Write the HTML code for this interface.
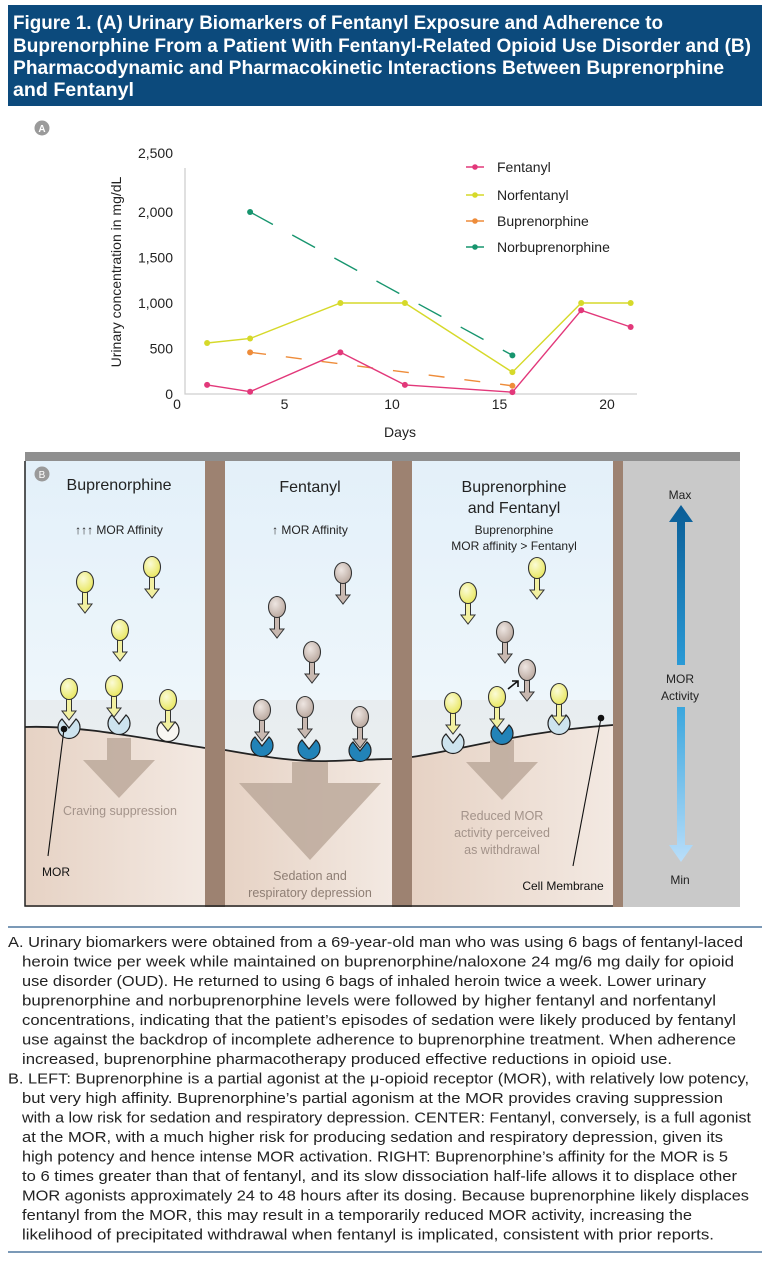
<!DOCTYPE html>
<html><head><meta charset="utf-8">
<style>
html,body{margin:0;padding:0;background:#fff;}
svg{display:block;font-family:"Liberation Sans",sans-serif;}
</style></head>
<body>
<svg id="fig" width="768" height="1268" viewBox="0 0 768 1268" xmlns="http://www.w3.org/2000/svg">
<defs>
<linearGradient id="sky" x1="0" y1="0" x2="0" y2="1"><stop offset="0" stop-color="#e3f0f9"/><stop offset="1" stop-color="#f7fbfd"/></linearGradient>
<linearGradient id="tan" x1="0" y1="0" x2="1" y2="0"><stop offset="0" stop-color="#e6d2c4"/><stop offset="1" stop-color="#f3e9e2"/></linearGradient>
<linearGradient id="upArr" x1="0" y1="1" x2="0" y2="0"><stop offset="0" stop-color="#2a9ad6"/><stop offset="1" stop-color="#0a5d96"/></linearGradient>
<linearGradient id="dnArr" x1="0" y1="0" x2="0" y2="1"><stop offset="0" stop-color="#3aa6dd"/><stop offset="1" stop-color="#b9defa"/></linearGradient>
<radialGradient id="yel" cx="0.4" cy="0.35" r="0.7"><stop offset="0" stop-color="#fbfbd6"/><stop offset="1" stop-color="#e8e65a"/></radialGradient>
<radialGradient id="brn" cx="0.4" cy="0.35" r="0.7"><stop offset="0" stop-color="#eee6e2"/><stop offset="1" stop-color="#b8a69c"/></radialGradient>
</defs>

<!-- Title -->
<rect x="8" y="5" width="754" height="101" fill="#0c4a7c"/>
<g fill="#fff" font-weight="bold" font-size="19">
<text x="13" y="29" textLength="650" lengthAdjust="spacingAndGlyphs">Figure 1. (A) Urinary Biomarkers of Fentanyl Exposure and Adherence to</text>
<text x="13" y="52" textLength="738" lengthAdjust="spacingAndGlyphs">Buprenorphine From a Patient With Fentanyl-Related Opioid Use Disorder and (B)</text>
<text x="13" y="74" textLength="711" lengthAdjust="spacingAndGlyphs">Pharmacodynamic and Pharmacokinetic Interactions Between Buprenorphine</text>
<text x="13" y="96" textLength="121" lengthAdjust="spacingAndGlyphs">and Fentanyl</text>
</g>
<g><circle cx="42" cy="128" r="7.5" fill="#9a9a9a"/><text x="42" y="132" fill="#fff" font-size="10" font-weight="bold" text-anchor="middle">A</text></g>

<!-- Chart -->
<g id="chart"></g>

<!-- Panel B -->
<g id="panelB"></g>

<!-- Caption -->
<line x1="8" y1="927" x2="762" y2="927" stroke="#2c5c8c" stroke-width="1.2"/>
<g font-size="15" fill="#222">
<text x="8" y="947" textLength="735" lengthAdjust="spacingAndGlyphs">A. Urinary biomarkers were obtained from a 69-year-old man who was using 6 bags of fentanyl-laced</text>
<text x="22" y="966.5" textLength="712" lengthAdjust="spacingAndGlyphs">heroin twice per week while maintained on buprenorphine/naloxone 24 mg/6 mg daily for opioid</text>
<text x="22" y="986" textLength="684" lengthAdjust="spacingAndGlyphs">use disorder (OUD). He returned to using 6 bags of inhaled heroin twice a week. Lower urinary</text>
<text x="22" y="1005.5" textLength="694" lengthAdjust="spacingAndGlyphs">buprenorphine and norbuprenorphine levels were followed by higher fentanyl and norfentanyl</text>
<text x="22" y="1025" textLength="714" lengthAdjust="spacingAndGlyphs">concentrations, indicating that the patient’s episodes of sedation were likely produced by fentanyl</text>
<text x="22" y="1044.5" textLength="714" lengthAdjust="spacingAndGlyphs">use against the backdrop of incomplete adherence to buprenorphine treatment. When adherence</text>
<text x="22" y="1064" textLength="650" lengthAdjust="spacingAndGlyphs">increased, buprenorphine pharmacotherapy produced effective reductions in opioid use.</text>
<text x="8" y="1083.5" textLength="741" lengthAdjust="spacingAndGlyphs">B. LEFT: Buprenorphine is a partial agonist at the μ-opioid receptor (MOR), with relatively low potency,</text>
<text x="22" y="1103" textLength="701" lengthAdjust="spacingAndGlyphs">but very high affinity. Buprenorphine’s partial agonism at the MOR provides craving suppression</text>
<text x="22" y="1122.5" textLength="729" lengthAdjust="spacingAndGlyphs">with a low risk for sedation and respiratory depression. CENTER: Fentanyl, conversely, is a full agonist</text>
<text x="22" y="1142" textLength="701" lengthAdjust="spacingAndGlyphs">at the MOR, with a much higher risk for producing sedation and respiratory depression, given its</text>
<text x="22" y="1161.5" textLength="706" lengthAdjust="spacingAndGlyphs">high potency and hence intense MOR activation. RIGHT: Buprenorphine’s affinity for the MOR is 5</text>
<text x="22" y="1181" textLength="715" lengthAdjust="spacingAndGlyphs">to 6 times greater than that of fentanyl, and its slow dissociation half-life allows it to displace other</text>
<text x="22" y="1200.5" textLength="727" lengthAdjust="spacingAndGlyphs">MOR agonists approximately 24 to 48 hours after its dosing. Because buprenorphine likely displaces</text>
<text x="22" y="1220" textLength="670" lengthAdjust="spacingAndGlyphs">fentanyl from the MOR, this may result in a temporarily reduced MOR activity, increasing the</text>
<text x="22" y="1239.5" textLength="692" lengthAdjust="spacingAndGlyphs">likelihood of precipitated withdrawal when fentanyl is implicated, consistent with prior reports.</text>
</g>
<line x1="8" y1="1252" x2="762" y2="1252" stroke="#2c5c8c" stroke-width="1.2"/>
</svg>

<script>
// ---- Chart data ----
const days = [1.4, 3.4, 7.6, 10.6, 15.6, 18.8, 21.1];
const fentanyl = [100, 25, 458, 100, 20, 920, 736];
const norfentanyl = [560, 610, 1000, 1000, 240, 1000, 1000];
const bupDays = [3.4, 15.6];
const buprenorphine = [458, 90];
const norbupDays = [3.4, 15.6];
const norbuprenorphine = [2000, 425];
const yTicks = [0, 500, 1000, 1500, 2000, 2500];
const yTickLabels = ["0", "500", "1,000", "1,500", "2,000", "2,500"];
const xTicks = [0, 5, 10, 15, 20];
const seriesNames = ["Fentanyl", "Norfentanyl", "Buprenorphine", "Norbuprenorphine"];

const NS = "http://www.w3.org/2000/svg";
function mk(tag, attrs, parent) {
  const e = document.createElementNS(NS, tag);
  for (const k in attrs) e.setAttribute(k, attrs[k]);
  parent.appendChild(e);
  return e;
}
const xS = d => 177 + d * 21.5;
const yS = v => 394 - v * 0.091;

const chart = document.getElementById('chart');
let ax = mk('path', {d: 'M185 168 V394 H637', fill: 'none', stroke: '#cfcfcf', 'stroke-width': 1.3}, chart);


yTicks.forEach((t, i) => {
  const yy = i === yTicks.length - 1 ? 153 : yS(t);
  const tx = mk('text', {x: 173, y: yy + 5, 'font-size': 14, 'text-anchor': 'end', fill: '#222'}, chart);
  tx.textContent = yTickLabels[i];
  
  
});
xTicks.forEach(t => {
  const tx = mk('text', {x: xS(t), y: 409, 'font-size': 14, 'text-anchor': 'middle', fill: '#222'}, chart);
  tx.textContent = String(t);
  
  
});
let yt = mk('text', {x: 0, y: 0, 'font-size': 14, 'text-anchor': 'middle', fill: '#222', transform: 'translate(121 272) rotate(-90)'}, chart);
yt.textContent = 'Urinary concentration in mg/dL';


let xt = mk('text', {x: 400, y: 437, 'font-size': 14, 'text-anchor': 'middle', fill: '#222'}, chart);
xt.textContent = 'Days';



function series(xs, vs, color, dash, name) {
  const g = mk('g', {}, chart);
  
  
  const pts = xs.map((d, i) => xS(d).toFixed(1) + ',' + yS(vs[i]).toFixed(1)).join(' ');
  const ln = mk('polyline', {points: pts, fill: 'none', stroke: color, 'stroke-width': 1.4}, g);
  if (dash) ln.setAttribute('stroke-dasharray', dash);
  
  
  xs.forEach((d, i) => {
    const c = mk('circle', {cx: xS(d), cy: yS(vs[i]), r: 3, fill: color}, g);
    
    
  });
}
series(days, norfentanyl, '#d6d92a', null, 'norfentanyl');
series(norbupDays, norbuprenorphine, '#17956e', '26 22', 'norbuprenorphine');
series(bupDays, buprenorphine, '#ee8c3a', '16 20', 'buprenorphine');
series(days, fentanyl, '#e2387a', null, 'fentanyl');

const legColors = ['#e2387a', '#d6d92a', '#ee8c3a', '#17956e'];
const legY = [167, 195, 221, 247];
seriesNames.forEach((n, i) => {
  const g = mk('g', {}, chart);
  
  
  mk('line', {x1: 466, y1: legY[i], x2: 484, y2: legY[i], stroke: legColors[i], 'stroke-width': 1.4}, g);
  mk('circle', {cx: 475, cy: legY[i], r: 2.8, fill: legColors[i]}, g);
  const t = mk('text', {x: 497, y: legY[i] + 5, 'font-size': 14, fill: '#222'}, g);
  t.textContent = n;
});

// ---- Panel B ----
const P = document.getElementById('panelB');
function r(x, y, w, h, fill, name) {
  const e = mk('rect', {x, y, width: w, height: h, fill}, P);
  
  
  return e;
}
r(25, 452, 715, 9, '#8f8f8f', 'top-bar');
r(25, 461, 180, 446, 'url(#sky)', 'panel-buprenorphine');
r(225, 461, 167, 446, 'url(#sky)', 'panel-fentanyl');
r(412, 461, 201, 446, 'url(#sky)', 'panel-combined');
r(623, 461, 117, 446, '#c9c9c9', 'panel-activity-scale');
const mem = [
  {x0:25,x1:205,d:'M25 727 C80 725 140 738 205 748', name:'membrane-left'},
  {x0:225,x1:392,d:'M225 750 C270 758 300 762 330 761 C360 760 380 759 392 759', name:'membrane-center'},
  {x0:412,x1:613,d:'M412 757 C470 748 520 732 613 725', name:'membrane-right'}
];
mem.forEach(m => {
  const sh = mk('path', {d: m.d + ' L' + m.x1 + ' 700 L' + m.x0 + ' 700 Z', fill: '#e4e8ea', opacity: 0.6}, P);
  
  
  const cy = mk('path', {d: m.d + ' L' + m.x1 + ' 907 L' + m.x0 + ' 907 Z', fill: 'url(#tan)'}, P);
  
  
  const ml = mk('path', {d: m.d, fill: 'none', stroke: '#222', 'stroke-width': 1.8}, P);
  
  
});
r(205, 461, 20, 446, '#9d8271', 'divider');
r(392, 461, 20, 446, '#9d8271', 'divider');
r(613, 461, 10, 446, '#9d8271', 'divider');
const bl = mk('path', {d: 'M25 461 V906 H613', fill: 'none', stroke: '#222', 'stroke-width': 1.5}, P);



function bigArrow(cx, y0, y1, hw, sw, hy, name) {
  const d = `M${cx-sw} ${y0} H${cx+sw} V${hy} H${cx+hw} L${cx} ${y1} L${cx-hw} ${hy} H${cx-sw} Z`;
  const e = mk('path', {d, fill: '#bca99b', opacity: 0.85}, P);
  
  
}
bigArrow(119, 738, 798, 36, 12, 760, 'craving-arrow');
bigArrow(310, 762, 860, 71, 18, 783, 'sedation-arrow');
bigArrow(502, 740, 800, 36, 12, 762, 'withdrawal-arrow');

function receptor(cx, cy, fill, name) {
  const g = mk('g', {}, P);
  
  
  mk('path', {d: `M${cx-7} ${cy-9} A11 11 0 1 0 ${cx+7} ${cy-9} L${cx} ${cy} Z`, fill, stroke: '#222', 'stroke-width': 1.2}, g);
}
function ligand(cx, cy, kind, name) {
  const g = mk('g', {}, P);
  
  
  const f = kind === 'y' ? 'url(#yel)' : 'url(#brn)';
  const s = kind === 'y' ? '#f2f0a0' : '#c8b8b0';
  mk('path', {d: `M${cx-2.5} ${cy+8} V${cy+22} H${cx-7} L${cx} ${cy+31} L${cx+7} ${cy+22} H${cx+2.5} V${cy+8} Z`, fill: s, stroke: '#333', 'stroke-width': 1}, g);
  mk('ellipse', {cx, cy, rx: 8.5, ry: 10.5, fill: f, stroke: '#333', 'stroke-width': 1.1}, g);
}
receptor(69, 728, '#cde3ee', 'mor-receptor');
receptor(119, 724, '#cde3ee', 'mor-receptor');
receptor(168, 731, '#f8f6f2', 'mor-receptor');
ligand(85, 582, 'y', 'buprenorphine-molecule');
ligand(152, 567, 'y', 'buprenorphine-molecule');
ligand(120, 630, 'y', 'buprenorphine-molecule');
ligand(69, 689, 'y', 'buprenorphine-bound');
ligand(114, 686, 'y', 'buprenorphine-bound');
ligand(168, 700, 'y', 'buprenorphine-bound');
receptor(262, 746, '#2283b8', 'mor-receptor-active');
receptor(309, 749, '#2283b8', 'mor-receptor-active');
receptor(360, 751, '#2283b8', 'mor-receptor-active');
ligand(277, 607, 'b', 'fentanyl-molecule');
ligand(343, 573, 'b', 'fentanyl-molecule');
ligand(312, 652, 'b', 'fentanyl-molecule');
ligand(262, 710, 'b', 'fentanyl-bound');
ligand(305, 707, 'b', 'fentanyl-bound');
ligand(360, 717, 'b', 'fentanyl-bound');
receptor(453, 743, '#cde3ee', 'mor-receptor');
receptor(502, 734, '#2283b8', 'mor-receptor-active');
receptor(559, 724, '#cde3ee', 'mor-receptor');
ligand(468, 593, 'y', 'buprenorphine-molecule');
ligand(537, 568, 'y', 'buprenorphine-molecule');
ligand(505, 632, 'b', 'fentanyl-molecule');
ligand(527, 670, 'b', 'fentanyl-displaced');
ligand(453, 703, 'y', 'buprenorphine-bound');
ligand(497, 697, 'y', 'buprenorphine-bound');
ligand(559, 694, 'y', 'buprenorphine-bound');
const da = mk('path', {d: 'M508 689 L518 681 M512 681 L518 681 L518 687', fill: 'none', stroke: '#111', 'stroke-width': 1.6}, P);



const p1 = mk('path', {d: 'M64 729 L48 856', stroke: '#111', 'stroke-width': 1.1, fill: 'none'}, P);


const d1 = mk('circle', {cx: 64, cy: 729, r: 3.3, fill: '#111'}, P);


const p2 = mk('path', {d: 'M601 718 L573 866', stroke: '#111', 'stroke-width': 1.1, fill: 'none'}, P);


const d2 = mk('circle', {cx: 601, cy: 718, r: 3.3, fill: '#111'}, P);



const ua = mk('path', {d: 'M677 665 V522 H669 L681 505 L693 522 H685 V665 Z', fill: 'url(#upArr)'}, P);


const dna = mk('path', {d: 'M677 707 V845 H669 L681 862 L693 845 H685 V707 Z', fill: 'url(#dnArr)'}, P);



function txt(x, y, s, size, fill, name) {
  const t = mk('text', {x, y, 'font-size': size, fill, 'text-anchor': 'middle'}, P);
  t.textContent = s;
  
  
  return t;
}
const bb = mk('circle', {cx: 42, cy: 474, r: 7.5, fill: '#9a9a9a'}, P);


txt(42, 478, 'B', 10, '#fff', 'panel-b-badge-label');
txt(119, 490, 'Buprenorphine', 16, '#222', 'panel-title');
txt(119, 534, '↑↑↑  MOR Affinity', 12, '#222', 'affinity-label');
txt(310, 492, 'Fentanyl', 16, '#222', 'panel-title');
txt(310, 534, '↑  MOR Affinity', 12, '#222', 'affinity-label');
txt(514, 492, 'Buprenorphine', 16, '#222', 'panel-title');
txt(514, 513, 'and Fentanyl', 16, '#222', 'panel-title');
txt(514, 534, 'Buprenorphine', 12, '#222', 'affinity-label');
txt(514, 550, 'MOR affinity > Fentanyl', 12, '#222', 'affinity-label');
txt(120, 815, 'Craving suppression', 12.5, '#a3938a', 'effect-label');
txt(310, 880, 'Sedation and', 12.5, '#8e7e74', 'effect-label');
txt(310, 897, 'respiratory depression', 12.5, '#8e7e74', 'effect-label');
txt(502, 820, 'Reduced MOR', 12.5, '#a3938a', 'effect-label');
txt(502, 837, 'activity perceived', 12.5, '#a3938a', 'effect-label');
txt(502, 854, 'as withdrawal', 12.5, '#a3938a', 'effect-label');
txt(56, 876, 'MOR', 12, '#111', 'mor-label');
txt(563, 890, 'Cell Membrane', 12, '#111', 'cell-membrane-label');
txt(680, 499, 'Max', 12, '#222', 'max-label');
txt(680, 683, 'MOR', 12, '#222', 'scale-label');
txt(680, 700, 'Activity', 12, '#222', 'scale-label');
txt(680, 884, 'Min', 12, '#222', 'min-label');
</script>
</body></html>
